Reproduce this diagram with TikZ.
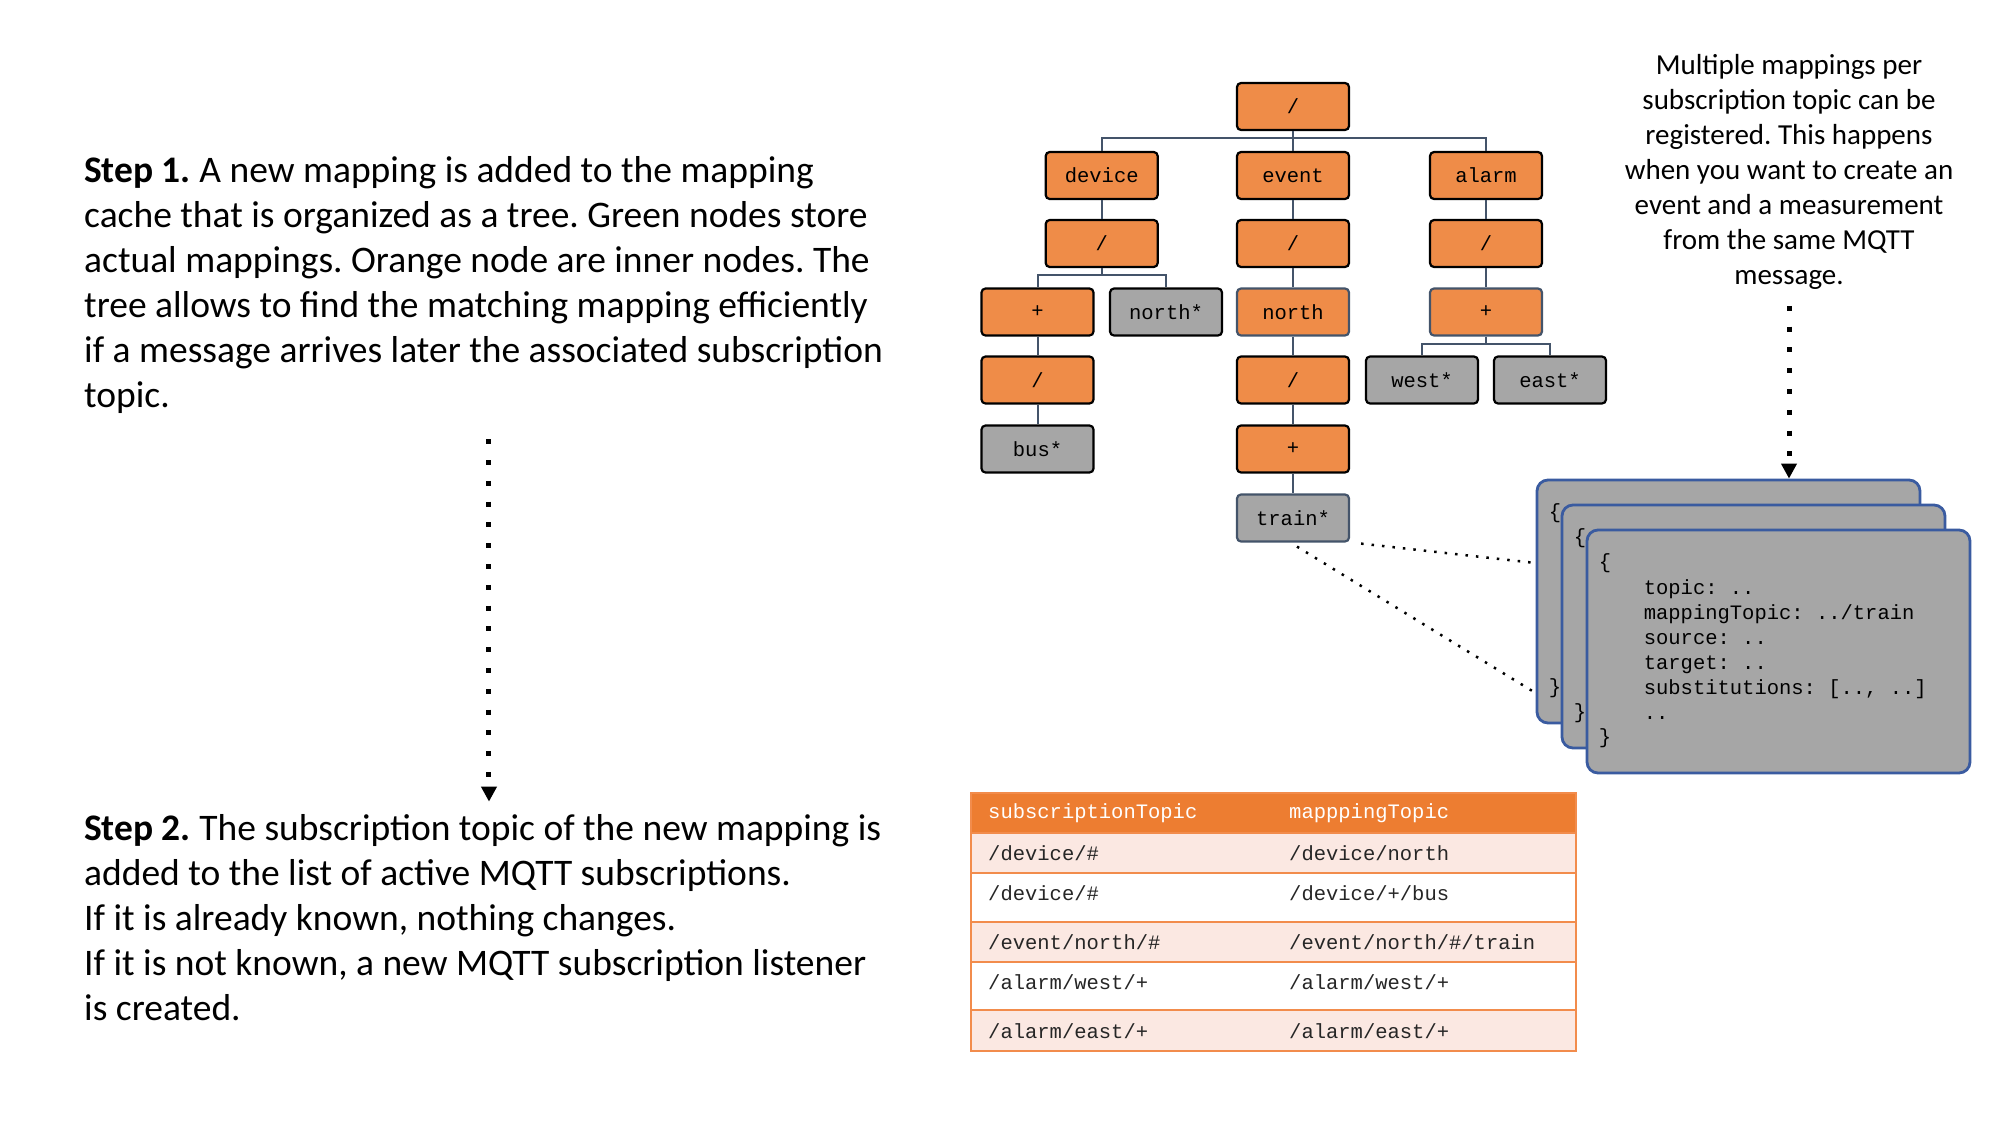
\documentclass[tikz,border=0pt]{standalone}
\usepackage{fontspec}
\setmainfont{Carlito}
\setmonofont{Liberation Mono}
\usepackage{tikz}
\usetikzlibrary{arrows.meta}
\frenchspacing
\definecolor{nodeorange}{HTML}{EF8C48}
\definecolor{nodegrey}{HTML}{A6A6A6}
\definecolor{slate}{HTML}{44546A}
\definecolor{headorange}{HTML}{ED7D31}
\definecolor{rowpink}{HTML}{FBE8E2}
\definecolor{tableline}{HTML}{F28C4C}
\definecolor{cardblue}{HTML}{3A5BA0}
\tikzset{tnode/.style={draw=black, line width=2.2pt, rounded corners=4pt, minimum width=112pt,
    minimum height=47pt, inner sep=0pt, font=\ttfamily\fontsize{20.5}{25}\selectfont}}
\tikzset{inode/.style={tnode, fill=nodeorange}, lnode/.style={tnode, fill=nodegrey},
  soft/.style={draw=slate}}
\tikzset{branch/.style={draw=slate, line width=2pt}}
\tikzset{code/.style={inner sep=0pt, font=\ttfamily\fontsize{20.5}{25}\selectfont}}
\tikzset{card/.style={draw=cardblue, fill=nodegrey, line width=2.8pt, minimum width=383pt,
    minimum height=243pt, rounded corners=11pt}}
\tikzset{dotarrow/.style={line width=5pt, dash pattern=on 5pt off 15.8pt,
    -{Triangle[length=15pt,width=15pt]}}}
\tikzset{dotline/.style={line width=2.5pt, dash pattern=on 2.5pt off 8pt}}
\tikzset{steptext/.style={align=left, inner sep=0pt, font=\fontsize{37.5}{45}\selectfont}}
\tikzset{tline/.style={draw=tableline, line width=2.5pt}}

\begin{document}
\begin{tikzpicture}[x=1pt,y=-1pt]
  \useasboundingbox (0,0) rectangle (2000,1125);

  \node[steptext, anchor=west] (step1) at (84,284.5) {\textbf{Step 1.} A new mapping is added to the mapping\\
    cache that is organized as a tree. Green nodes store\\
    actual mappings. Orange node are inner nodes. The\\
    tree allows to find the matching mapping efficiently\\
    if a message arrives later the associated subscription\\
    topic.};
  \node[steptext, anchor=west] (step2) at (84,918) {\textbf{Step 2.} The subscription topic of the new mapping is\\
    added to the list of active MQTT subscriptions.\\
    If it is already known, nothing changes.\\
    If it is not known, a new MQTT subscription listener\\
    is created.};
  \draw[dotarrow] ([xshift=5.5pt,yshift=-26pt]step1.south) -- ([xshift=5.5pt,yshift=13pt]step1.south |- step2.north);

  % mapping tree
  \node[inode] (root) at (1293,106.5) {/};
  \node[inode] (dev) at (1101.7,175.5) {device};
  \node[inode] (evt) at (1293,175.5) {event};
  \node[inode] (alm) at (1486,175.5) {alarm};
  \node[inode] (devSl) at (1101.7,243.5) {/};
  \node[inode] (evtSl) at (1293,243.5) {/};
  \node[inode] (almSl) at (1486,243.5) {/};
  \node[inode] (devPlus) at (1037.5,312) {+};
  \node[lnode] (devNorth) at (1166,312) {north*};
  \node[inode, soft] (evtNorth) at (1293,312) {north};
  \node[inode, soft] (almPlus) at (1486,312) {+};
  \node[inode] (devPlusSl) at (1037.5,380) {/};
  \node[inode] (evtNorthSl) at (1293,380) {/};
  \node[lnode] (west) at (1422,380) {west*};
  \node[lnode] (east) at (1550,380) {east*};
  \node[lnode] (bus) at (1037.5,449) {bus*};
  \node[inode] (evtPlus) at (1293,449) {+};
  \node[lnode, soft] (train) at (1293,518) {train*};

  \draw[branch] (root) -- (evt);
  \draw[branch] (dev) |- ([yshift=-7pt]root.south) -| (alm);
  \draw[branch] (dev) -- (devSl);
  \draw[branch] (evt) -- (evtSl);
  \draw[branch] (alm) -- (almSl);
  \draw[branch] (devSl.south) -- ([yshift=-7pt]devSl.south);
  \draw[branch] (devPlus) |- ([yshift=-7pt]devSl.south) -| (devNorth);
  \draw[branch] (evtSl) -- (evtNorth);
  \draw[branch] (almSl) -- (almPlus);
  \draw[branch] (almPlus.south) -- ([yshift=-7pt]almPlus.south);
  \draw[branch] (west) |- ([yshift=-7pt]almPlus.south) -| (east);
  \draw[branch] (devPlus) -- (devPlusSl);
  \draw[branch] (devPlusSl) -- (bus);
  \draw[branch] (evtNorth) -- (evtNorthSl);
  \draw[branch] (evtNorthSl) -- (evtPlus);
  \draw[branch] (evtPlus) -- (train);

  % stacked mappings
  \foreach \i in {0,1,2}{
    \node[card] (card\i) at (1728.5+25*\i,601.5+25*\i) {};
    \node[code, anchor=west] (open\i) at ([xshift=13pt,yshift=-35pt]card\i.north west) {\{};
    \node[code, anchor=west] (close\i) at ([xshift=13pt,yshift=-210pt]card\i.north west) {\}};
  }
  \node[code, align=left, anchor=north west] (fields) at ([xshift=58pt,yshift=-51pt]card2.north west)
    {topic: ..\\mappingTopic: ../train\\source: ..\\target: ..\\substitutions: [.., ..]\\..};

  \draw[dotline] ([xshift=11pt,yshift=-1pt]train.south east) -- ([yshift=38.5pt]card0.west);
  \draw[dotline] ([xshift=4pt,yshift=-4pt]train.south) -- ([yshift=-91.5pt]card0.west);

  \node[align=center, inner sep=0pt, font=\fontsize{29}{35}\selectfont] (note) at (1789,172)
    {Multiple mappings per\\subscription topic can be\\registered. This happens\\when you want to create an\\event and a measurement\\from the same MQTT\\message.};
  \draw[dotarrow] ([yshift=-16pt]note.south) -- (note.south |- card0.north);

  % subscription table
  \fill[headorange] (971,793) rectangle (1576,833);
  \foreach \y/\h/\c in {833/40/rowpink, 873/49/white, 922/40/rowpink, 962/48/white, 1010/41/rowpink}
    \draw[tline, fill=\c] (971,\y) rectangle (1576,\y+\h);
  \draw[tline] (971,793) rectangle (1576,1051);
  \node[code, anchor=west, text=white] (subHead) at (988,813) {subscriptionTopic};
  \node[code, anchor=west, text=white] (mapHead) at (1289,813) {mapppingTopic};
  \foreach \n/\y/\sub/\map in {1/853/{/device/\#}/{/device/north}, 2/893/{/device/\#}/{/device/+/bus},
      3/942/{/event/north/\#}/{/event/north/\#/train}, 4/982/{/alarm/west/+}/{/alarm/west/+},
      5/1031/{/alarm/east/+}/{/alarm/east/+}}{
    \node[code, anchor=west, text=black!85] (sub\n) at (988,\y) {\sub};
    \node[code, anchor=west, text=black!85] (map\n) at (1289,\y) {\map};
  }
\end{tikzpicture}
\end{document}
